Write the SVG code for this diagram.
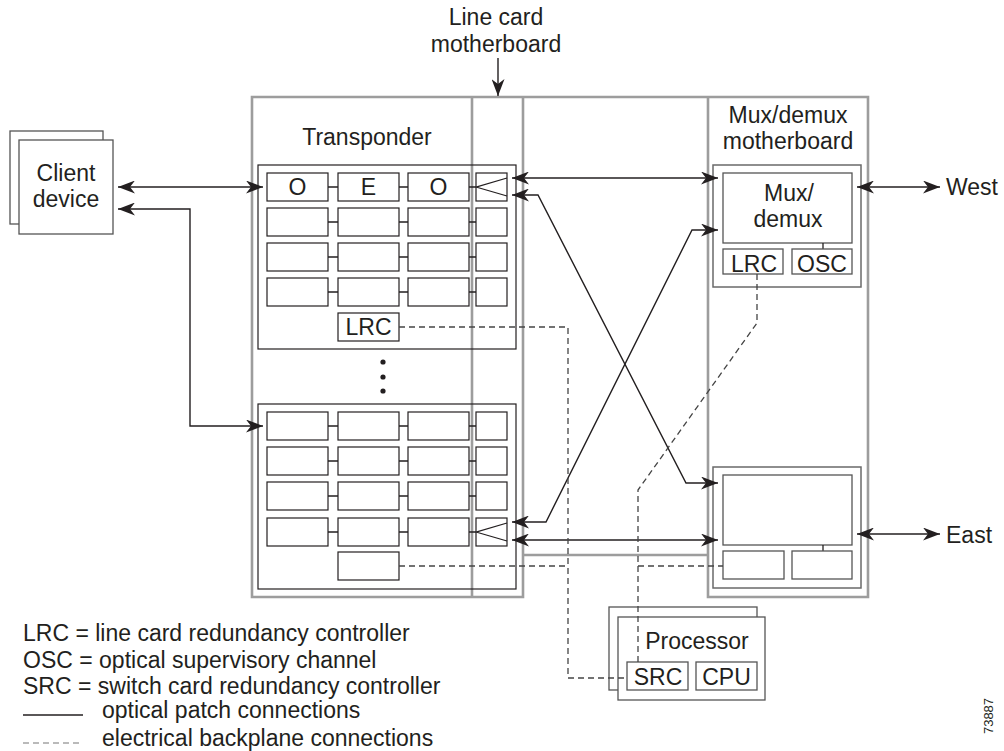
<svg xmlns="http://www.w3.org/2000/svg" width="1004" height="751" viewBox="0 0 1004 751">
<style>
text{font-family:"Liberation Sans",Arial,sans-serif;font-size:23px;fill:#231f20}
.c{text-anchor:middle}
.frame{fill:none;stroke:#9d9d9d;stroke-width:2.6}
.board{fill:none;stroke:#231f20;stroke-width:1.2}
.mboard{fill:none;stroke:#6a6a6a;stroke-width:1.5}
.box{fill:#fff;stroke:#231f20;stroke-width:1.2}
.gbox{fill:#fff;stroke:#555;stroke-width:1.3}
.ln{fill:none;stroke:#231f20;stroke-width:1.3}
.ar{fill:none;stroke:#231f20;stroke-width:1.4}
.ds{fill:none;stroke:#444;stroke-width:1.3;stroke-dasharray:6 4}
</style>
<defs>
<marker id="ah" viewBox="0 0 17 13" refX="17" refY="6.5" markerWidth="17" markerHeight="13" markerUnits="userSpaceOnUse" orient="auto-start-reverse">
<path d="M0,0 L17,6.5 L0,13 L5,6.5 z" fill="#231f20"/>
</marker>
</defs>
<rect width="1004" height="751" fill="#fff"/>

<g id="chassis">
<path class="frame" d="M252,97 H868 V597 H708 V555 H523 V597 H252 Z M472,97 V597 M523,97 V555 M708,97 V555"/>
<text class="c" x="496" y="25">Line card</text>
<text class="c" x="496" y="52">motherboard</text>
<text class="c" x="367" y="145">Transponder</text>
<text class="c" x="788" y="123">Mux/demux</text>
<text class="c" x="788" y="149">motherboard</text>
</g>

<g id="client">
<rect class="gbox" x="10" y="131" width="93" height="93"/>
<rect class="gbox" x="19" y="140" width="94" height="94"/>
<text class="c" x="66" y="181">Client</text>
<text class="c" x="66" y="207">device</text>
</g>

<g id="transponder1">
<rect class="board" x="258" y="165" width="258" height="184"/>
<rect class="box" x="267" y="173" width="61" height="28"/>
<rect class="box" x="338" y="173" width="61" height="28"/>
<rect class="box" x="408" y="173" width="61" height="28"/>
<rect class="box" x="476" y="173" width="31" height="28"/>
<text class="c" x="297.5" y="195">O</text>
<text class="c" x="368.5" y="195">E</text>
<text class="c" x="438.5" y="195">O</text>
<path class="ln" d="M328,187H338M399,187H408M469,187H476L507,178M476,187L507,196"/>
<rect class="box" x="267" y="208" width="61" height="28"/>
<rect class="box" x="338" y="208" width="61" height="28"/>
<rect class="box" x="408" y="208" width="61" height="28"/>
<rect class="box" x="476" y="208" width="31" height="28"/>
<path class="ln" d="M328,222H338M399,222H408M469,222H476"/>
<rect class="box" x="267" y="243" width="61" height="28"/>
<rect class="box" x="338" y="243" width="61" height="28"/>
<rect class="box" x="408" y="243" width="61" height="28"/>
<rect class="box" x="476" y="243" width="31" height="28"/>
<path class="ln" d="M328,257H338M399,257H408M469,257H476"/>
<rect class="box" x="267" y="278" width="61" height="28"/>
<rect class="box" x="338" y="278" width="61" height="28"/>
<rect class="box" x="408" y="278" width="61" height="28"/>
<rect class="box" x="476" y="278" width="31" height="28"/>
<path class="ln" d="M328,292H338M399,292H408M469,292H476"/>
<rect class="box" x="338" y="313" width="61" height="28"/>
<text class="c" x="368.5" y="335">LRC</text>
</g>

<g id="ellipsis">
<circle cx="383" cy="362" r="2.6" fill="#231f20"/>
<circle cx="383" cy="377" r="2.6" fill="#231f20"/>
<circle cx="383" cy="391" r="2.6" fill="#231f20"/>
</g>

<g id="transponder2">
<rect class="board" x="258" y="404" width="258" height="185"/>
<rect class="box" x="267" y="412" width="61" height="28"/>
<rect class="box" x="338" y="412" width="61" height="28"/>
<rect class="box" x="408" y="412" width="61" height="28"/>
<rect class="box" x="476" y="412" width="31" height="28"/>
<path class="ln" d="M328,426H338M399,426H408M469,426H476"/>
<rect class="box" x="267" y="447" width="61" height="28"/>
<rect class="box" x="338" y="447" width="61" height="28"/>
<rect class="box" x="408" y="447" width="61" height="28"/>
<rect class="box" x="476" y="447" width="31" height="28"/>
<path class="ln" d="M328,461H338M399,461H408M469,461H476"/>
<rect class="box" x="267" y="482" width="61" height="28"/>
<rect class="box" x="338" y="482" width="61" height="28"/>
<rect class="box" x="408" y="482" width="61" height="28"/>
<rect class="box" x="476" y="482" width="31" height="28"/>
<path class="ln" d="M328,496H338M399,496H408M469,496H476"/>
<rect class="box" x="267" y="518" width="61" height="28"/>
<rect class="box" x="338" y="518" width="61" height="28"/>
<rect class="box" x="408" y="518" width="61" height="28"/>
<rect class="box" x="476" y="518" width="31" height="28"/>
<path class="ln" d="M328,532H338M399,532H408M469,532H476L507,523M476,532L507,541"/>
<rect class="box" x="338" y="552" width="61" height="28"/>
</g>

<g id="muxWest">
<rect class="mboard" x="713" y="165" width="148" height="122"/>
<rect class="gbox" x="723" y="173" width="129" height="70"/>
<text class="c" x="789" y="201">Mux/</text>
<text class="c" x="788" y="227">demux</text>
<path class="ln" d="M823,243V249"/>
<rect class="gbox" x="723" y="249" width="60" height="25"/>
<rect class="gbox" x="792" y="249" width="60" height="25"/>
<text class="c" x="754" y="272">LRC</text>
<text class="c" x="822" y="272">OSC</text>
<text x="946" y="195">West</text>
</g>

<g id="muxEast">
<rect class="mboard" x="713" y="467" width="148" height="121"/>
<rect class="gbox" x="723" y="475" width="129" height="70"/>
<path class="ln" d="M823,545V551"/>
<rect class="gbox" x="723" y="551" width="61" height="28"/>
<rect class="gbox" x="792" y="551" width="60" height="28"/>
<text x="946" y="543">East</text>
</g>

<g id="processor">
<rect class="gbox" x="609" y="607" width="148" height="83"/>
<rect class="gbox" x="618" y="617" width="147" height="83"/>
<text class="c" x="697" y="649">Processor</text>
<rect class="gbox" x="627" y="662" width="61" height="28"/>
<rect class="gbox" x="696" y="662" width="61" height="28"/>
<text class="c" x="658" y="685">SRC</text>
<text class="c" x="726.5" y="685">CPU</text>
</g>

<g id="connectors">
<path class="ar" d="M498,58V96" marker-end="url(#ah)"/>
<path class="ar" d="M118,187H263" marker-start="url(#ah)" marker-end="url(#ah)"/>
<path class="ar" d="M118,209H190V426H263" marker-start="url(#ah)" marker-end="url(#ah)"/>
<path class="ar" d="M512,178H718" marker-start="url(#ah)" marker-end="url(#ah)"/>
<path class="ar" d="M512,195H538L686,483H718" marker-start="url(#ah)" marker-end="url(#ah)"/>
<path class="ar" d="M512,522H546L692,230H718" marker-start="url(#ah)" marker-end="url(#ah)"/>
<path class="ar" d="M512,540H718" marker-start="url(#ah)" marker-end="url(#ah)"/>
<path class="ar" d="M857,187H940" marker-start="url(#ah)" marker-end="url(#ah)"/>
<path class="ar" d="M857,534H940" marker-start="url(#ah)" marker-end="url(#ah)"/>
<path class="ds" d="M399,327H568V678H627"/>
<path class="ds" d="M399,566H568"/>
<path class="ds" d="M757,274V323L638,490V662"/>
<path class="ds" d="M638,566H723"/>
</g>

<g id="legend">
<text x="23" y="641">LRC = line card redundancy controller</text>
<text x="23" y="668">OSC = optical supervisory channel</text>
<text x="23" y="694">SRC = switch card redundancy controller</text>
<path class="ln" d="M23,715H83"/>
<text x="102" y="718">optical patch connections</text>
<path d="M23,743H83" fill="none" stroke="#777" stroke-width="1.2" stroke-dasharray="6 4"/>
<text x="102" y="746">electrical backplane connections</text>
<text transform="translate(993,716) rotate(-90)" class="c" style="font-size:13px">73887</text>
</g>
</svg>
